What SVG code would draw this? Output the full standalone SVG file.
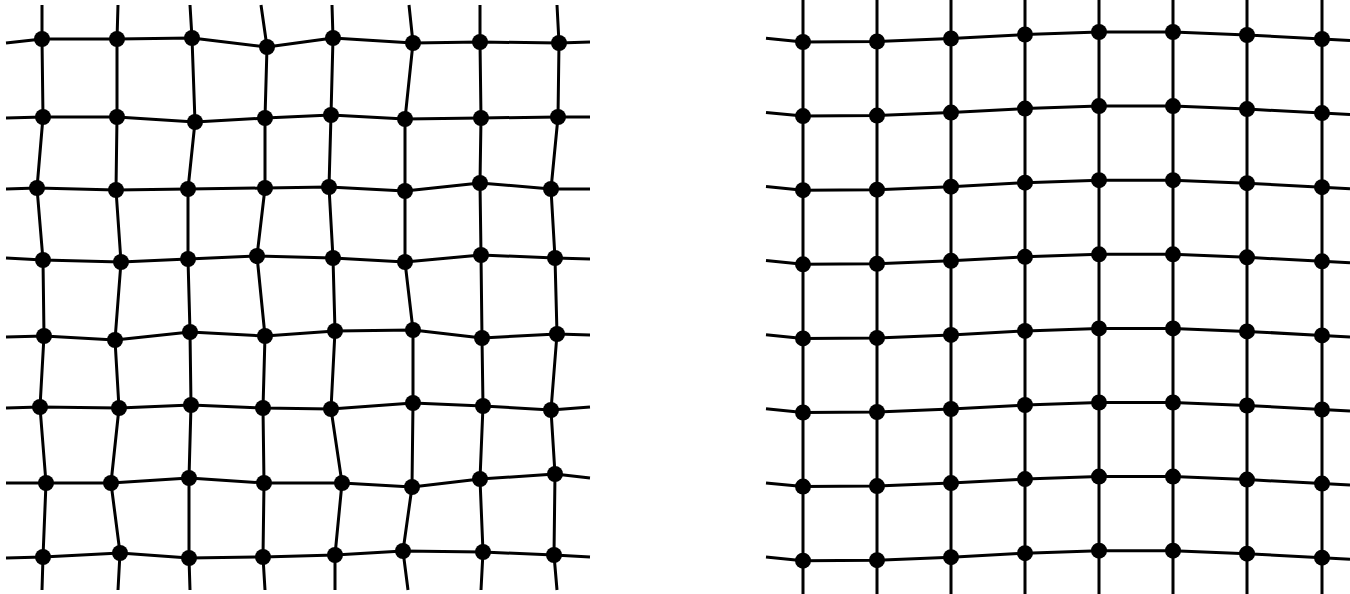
<svg xmlns="http://www.w3.org/2000/svg" width="1350" height="594" viewBox="0 0 1350 594">
<style>
.e{fill:none;stroke:#000;stroke-width:3;stroke-linejoin:round}
.n{fill:#000}
</style>
<rect width="1350" height="594" fill="#fff"/>
<g id="connectors">
<!-- left grid rows -->
<path class="e" d="M6,43 L42,39 117,39 192,38 267,47 333,38 413,43 480,42 559,43 590,42"/>
<path class="e" d="M6,118 L43,117 117,117 195,122 265,118 331,115 405,119 481,118 558,117 590,117"/>
<path class="e" d="M6,189 L37,188 116,190 188,189 265,188 329,187 405,191 480,183 551,189 590,189"/>
<path class="e" d="M6,258 L43,260 121,262 188,259 257,256 333,258 405,262 481,255 555,258 590,259"/>
<path class="e" d="M6,337 L44,336 115,340 190,332 265,336 335,331 413,330 482,338 557,334 590,335"/>
<path class="e" d="M6,408 L40,407 119,408 191,405 263,408 331,409 413,403 483,406 551,410 590,407"/>
<path class="e" d="M6,483 L46,483 111,483 189,478 264,483 342,483 412,487 480,479 555,474 590,478"/>
<path class="e" d="M6,558 L43,557 120,553 189,558 263,557 335,555 403,551 483,552 554,555 590,557"/>
<!-- left grid columns -->
<path class="e" d="M42,5 L42,39 43,117 37,188 43,260 44,336 40,407 46,483 43,557 42,590"/>
<path class="e" d="M118,5 L117,39 117,117 116,190 121,262 115,340 119,408 111,483 120,553 118,590"/>
<path class="e" d="M190,5 L192,38 195,122 188,189 188,259 190,332 191,405 189,478 189,558 190,590"/>
<path class="e" d="M261,5 L267,47 265,118 265,188 257,256 265,336 263,408 264,483 263,557 265,590"/>
<path class="e" d="M332,5 L333,38 331,115 329,187 333,258 335,331 331,409 342,483 335,555 335,590"/>
<path class="e" d="M409,5 L413,43 405,119 405,191 405,262 413,330 413,403 412,487 403,551 408,590"/>
<path class="e" d="M480,5 L480,42 481,118 480,183 481,255 482,338 483,406 480,479 483,552 481,590"/>
<path class="e" d="M557,5 L559,43 558,117 551,189 555,258 557,334 551,410 555,474 554,555 557,590"/>
<!-- right grid rows -->
<path class="e" d="M766,38.3 L803,42 877,41.5 951,38.5 1025,34.5 1099,32 1173,32 1247,35 1322,39 1350,40.5"/>
<path class="e" d="M766,112.4 L803,116.1 877,115.6 951,112.6 1025,108.6 1099,106.1 1173,106.1 1247,109.1 1322,113.1 1350,114.6"/>
<path class="e" d="M766,186.5 L803,190.2 877,189.7 951,186.7 1025,182.7 1099,180.2 1173,180.2 1247,183.2 1322,187.2 1350,188.7"/>
<path class="e" d="M766,260.6 L803,264.3 877,263.8 951,260.8 1025,256.8 1099,254.3 1173,254.3 1247,257.3 1322,261.3 1350,262.8"/>
<path class="e" d="M766,334.7 L803,338.4 877,337.9 951,334.9 1025,330.9 1099,328.4 1173,328.4 1247,331.4 1322,335.4 1350,336.9"/>
<path class="e" d="M766,408.8 L803,412.5 877,412 951,409 1025,405 1099,402.5 1173,402.5 1247,405.5 1322,409.5 1350,411"/>
<path class="e" d="M766,482.9 L803,486.6 877,486.1 951,483.1 1025,479.1 1099,476.6 1173,476.6 1247,479.6 1322,483.6 1350,485.1"/>
<path class="e" d="M766,557 L803,560.7 877,560.2 951,557.2 1025,553.2 1099,550.7 1173,550.7 1247,553.7 1322,557.7 1350,559.2"/>
<!-- right grid columns -->
<path class="e" d="M803,0 V594 M877,0 V594 M951,0 V594 M1025,0 V594 M1099,0 V594 M1173,0 V594 M1247,0 V594 M1322,0 V594"/>
</g>
<g id="L00"><circle class="n" cx="42" cy="39" r="8"/></g>
<g id="L01"><circle class="n" cx="117" cy="39" r="8"/></g>
<g id="L02"><circle class="n" cx="192" cy="38" r="8"/></g>
<g id="L03"><circle class="n" cx="267" cy="47" r="8"/></g>
<g id="L04"><circle class="n" cx="333" cy="38" r="8"/></g>
<g id="L05"><circle class="n" cx="413" cy="43" r="8"/></g>
<g id="L06"><circle class="n" cx="480" cy="42" r="8"/></g>
<g id="L07"><circle class="n" cx="559" cy="43" r="8"/></g>
<g id="L10"><circle class="n" cx="43" cy="117" r="8"/></g>
<g id="L11"><circle class="n" cx="117" cy="117" r="8"/></g>
<g id="L12"><circle class="n" cx="195" cy="122" r="8"/></g>
<g id="L13"><circle class="n" cx="265" cy="118" r="8"/></g>
<g id="L14"><circle class="n" cx="331" cy="115" r="8"/></g>
<g id="L15"><circle class="n" cx="405" cy="119" r="8"/></g>
<g id="L16"><circle class="n" cx="481" cy="118" r="8"/></g>
<g id="L17"><circle class="n" cx="558" cy="117" r="8"/></g>
<g id="L20"><circle class="n" cx="37" cy="188" r="8"/></g>
<g id="L21"><circle class="n" cx="116" cy="190" r="8"/></g>
<g id="L22"><circle class="n" cx="188" cy="189" r="8"/></g>
<g id="L23"><circle class="n" cx="265" cy="188" r="8"/></g>
<g id="L24"><circle class="n" cx="329" cy="187" r="8"/></g>
<g id="L25"><circle class="n" cx="405" cy="191" r="8"/></g>
<g id="L26"><circle class="n" cx="480" cy="183" r="8"/></g>
<g id="L27"><circle class="n" cx="551" cy="189" r="8"/></g>
<g id="L30"><circle class="n" cx="43" cy="260" r="8"/></g>
<g id="L31"><circle class="n" cx="121" cy="262" r="8"/></g>
<g id="L32"><circle class="n" cx="188" cy="259" r="8"/></g>
<g id="L33"><circle class="n" cx="257" cy="256" r="8"/></g>
<g id="L34"><circle class="n" cx="333" cy="258" r="8"/></g>
<g id="L35"><circle class="n" cx="405" cy="262" r="8"/></g>
<g id="L36"><circle class="n" cx="481" cy="255" r="8"/></g>
<g id="L37"><circle class="n" cx="555" cy="258" r="8"/></g>
<g id="L40"><circle class="n" cx="44" cy="336" r="8"/></g>
<g id="L41"><circle class="n" cx="115" cy="340" r="8"/></g>
<g id="L42"><circle class="n" cx="190" cy="332" r="8"/></g>
<g id="L43"><circle class="n" cx="265" cy="336" r="8"/></g>
<g id="L44"><circle class="n" cx="335" cy="331" r="8"/></g>
<g id="L45"><circle class="n" cx="413" cy="330" r="8"/></g>
<g id="L46"><circle class="n" cx="482" cy="338" r="8"/></g>
<g id="L47"><circle class="n" cx="557" cy="334" r="8"/></g>
<g id="L50"><circle class="n" cx="40" cy="407" r="8"/></g>
<g id="L51"><circle class="n" cx="119" cy="408" r="8"/></g>
<g id="L52"><circle class="n" cx="191" cy="405" r="8"/></g>
<g id="L53"><circle class="n" cx="263" cy="408" r="8"/></g>
<g id="L54"><circle class="n" cx="331" cy="409" r="8"/></g>
<g id="L55"><circle class="n" cx="413" cy="403" r="8"/></g>
<g id="L56"><circle class="n" cx="483" cy="406" r="8"/></g>
<g id="L57"><circle class="n" cx="551" cy="410" r="8"/></g>
<g id="L60"><circle class="n" cx="46" cy="483" r="8"/></g>
<g id="L61"><circle class="n" cx="111" cy="483" r="8"/></g>
<g id="L62"><circle class="n" cx="189" cy="478" r="8"/></g>
<g id="L63"><circle class="n" cx="264" cy="483" r="8"/></g>
<g id="L64"><circle class="n" cx="342" cy="483" r="8"/></g>
<g id="L65"><circle class="n" cx="412" cy="487" r="8"/></g>
<g id="L66"><circle class="n" cx="480" cy="479" r="8"/></g>
<g id="L67"><circle class="n" cx="555" cy="474" r="8"/></g>
<g id="L70"><circle class="n" cx="43" cy="557" r="8"/></g>
<g id="L71"><circle class="n" cx="120" cy="553" r="8"/></g>
<g id="L72"><circle class="n" cx="189" cy="558" r="8"/></g>
<g id="L73"><circle class="n" cx="263" cy="557" r="8"/></g>
<g id="L74"><circle class="n" cx="335" cy="555" r="8"/></g>
<g id="L75"><circle class="n" cx="403" cy="551" r="8"/></g>
<g id="L76"><circle class="n" cx="483" cy="552" r="8"/></g>
<g id="L77"><circle class="n" cx="554" cy="555" r="8"/></g>
<g id="R00"><circle class="n" cx="803" cy="42" r="8"/></g>
<g id="R01"><circle class="n" cx="877" cy="41.5" r="8"/></g>
<g id="R02"><circle class="n" cx="951" cy="38.5" r="8"/></g>
<g id="R03"><circle class="n" cx="1025" cy="34.5" r="8"/></g>
<g id="R04"><circle class="n" cx="1099" cy="32" r="8"/></g>
<g id="R05"><circle class="n" cx="1173" cy="32" r="8"/></g>
<g id="R06"><circle class="n" cx="1247" cy="35" r="8"/></g>
<g id="R07"><circle class="n" cx="1322" cy="39" r="8"/></g>
<g id="R10"><circle class="n" cx="803" cy="116.1" r="8"/></g>
<g id="R11"><circle class="n" cx="877" cy="115.6" r="8"/></g>
<g id="R12"><circle class="n" cx="951" cy="112.6" r="8"/></g>
<g id="R13"><circle class="n" cx="1025" cy="108.6" r="8"/></g>
<g id="R14"><circle class="n" cx="1099" cy="106.1" r="8"/></g>
<g id="R15"><circle class="n" cx="1173" cy="106.1" r="8"/></g>
<g id="R16"><circle class="n" cx="1247" cy="109.1" r="8"/></g>
<g id="R17"><circle class="n" cx="1322" cy="113.1" r="8"/></g>
<g id="R20"><circle class="n" cx="803" cy="190.2" r="8"/></g>
<g id="R21"><circle class="n" cx="877" cy="189.7" r="8"/></g>
<g id="R22"><circle class="n" cx="951" cy="186.7" r="8"/></g>
<g id="R23"><circle class="n" cx="1025" cy="182.7" r="8"/></g>
<g id="R24"><circle class="n" cx="1099" cy="180.2" r="8"/></g>
<g id="R25"><circle class="n" cx="1173" cy="180.2" r="8"/></g>
<g id="R26"><circle class="n" cx="1247" cy="183.2" r="8"/></g>
<g id="R27"><circle class="n" cx="1322" cy="187.2" r="8"/></g>
<g id="R30"><circle class="n" cx="803" cy="264.3" r="8"/></g>
<g id="R31"><circle class="n" cx="877" cy="263.8" r="8"/></g>
<g id="R32"><circle class="n" cx="951" cy="260.8" r="8"/></g>
<g id="R33"><circle class="n" cx="1025" cy="256.8" r="8"/></g>
<g id="R34"><circle class="n" cx="1099" cy="254.3" r="8"/></g>
<g id="R35"><circle class="n" cx="1173" cy="254.3" r="8"/></g>
<g id="R36"><circle class="n" cx="1247" cy="257.3" r="8"/></g>
<g id="R37"><circle class="n" cx="1322" cy="261.3" r="8"/></g>
<g id="R40"><circle class="n" cx="803" cy="338.4" r="8"/></g>
<g id="R41"><circle class="n" cx="877" cy="337.9" r="8"/></g>
<g id="R42"><circle class="n" cx="951" cy="334.9" r="8"/></g>
<g id="R43"><circle class="n" cx="1025" cy="330.9" r="8"/></g>
<g id="R44"><circle class="n" cx="1099" cy="328.4" r="8"/></g>
<g id="R45"><circle class="n" cx="1173" cy="328.4" r="8"/></g>
<g id="R46"><circle class="n" cx="1247" cy="331.4" r="8"/></g>
<g id="R47"><circle class="n" cx="1322" cy="335.4" r="8"/></g>
<g id="R50"><circle class="n" cx="803" cy="412.5" r="8"/></g>
<g id="R51"><circle class="n" cx="877" cy="412" r="8"/></g>
<g id="R52"><circle class="n" cx="951" cy="409" r="8"/></g>
<g id="R53"><circle class="n" cx="1025" cy="405" r="8"/></g>
<g id="R54"><circle class="n" cx="1099" cy="402.5" r="8"/></g>
<g id="R55"><circle class="n" cx="1173" cy="402.5" r="8"/></g>
<g id="R56"><circle class="n" cx="1247" cy="405.5" r="8"/></g>
<g id="R57"><circle class="n" cx="1322" cy="409.5" r="8"/></g>
<g id="R60"><circle class="n" cx="803" cy="486.6" r="8"/></g>
<g id="R61"><circle class="n" cx="877" cy="486.1" r="8"/></g>
<g id="R62"><circle class="n" cx="951" cy="483.1" r="8"/></g>
<g id="R63"><circle class="n" cx="1025" cy="479.1" r="8"/></g>
<g id="R64"><circle class="n" cx="1099" cy="476.6" r="8"/></g>
<g id="R65"><circle class="n" cx="1173" cy="476.6" r="8"/></g>
<g id="R66"><circle class="n" cx="1247" cy="479.6" r="8"/></g>
<g id="R67"><circle class="n" cx="1322" cy="483.6" r="8"/></g>
<g id="R70"><circle class="n" cx="803" cy="560.7" r="8"/></g>
<g id="R71"><circle class="n" cx="877" cy="560.2" r="8"/></g>
<g id="R72"><circle class="n" cx="951" cy="557.2" r="8"/></g>
<g id="R73"><circle class="n" cx="1025" cy="553.2" r="8"/></g>
<g id="R74"><circle class="n" cx="1099" cy="550.7" r="8"/></g>
<g id="R75"><circle class="n" cx="1173" cy="550.7" r="8"/></g>
<g id="R76"><circle class="n" cx="1247" cy="553.7" r="8"/></g>
<g id="R77"><circle class="n" cx="1322" cy="557.7" r="8"/></g>
</svg>
